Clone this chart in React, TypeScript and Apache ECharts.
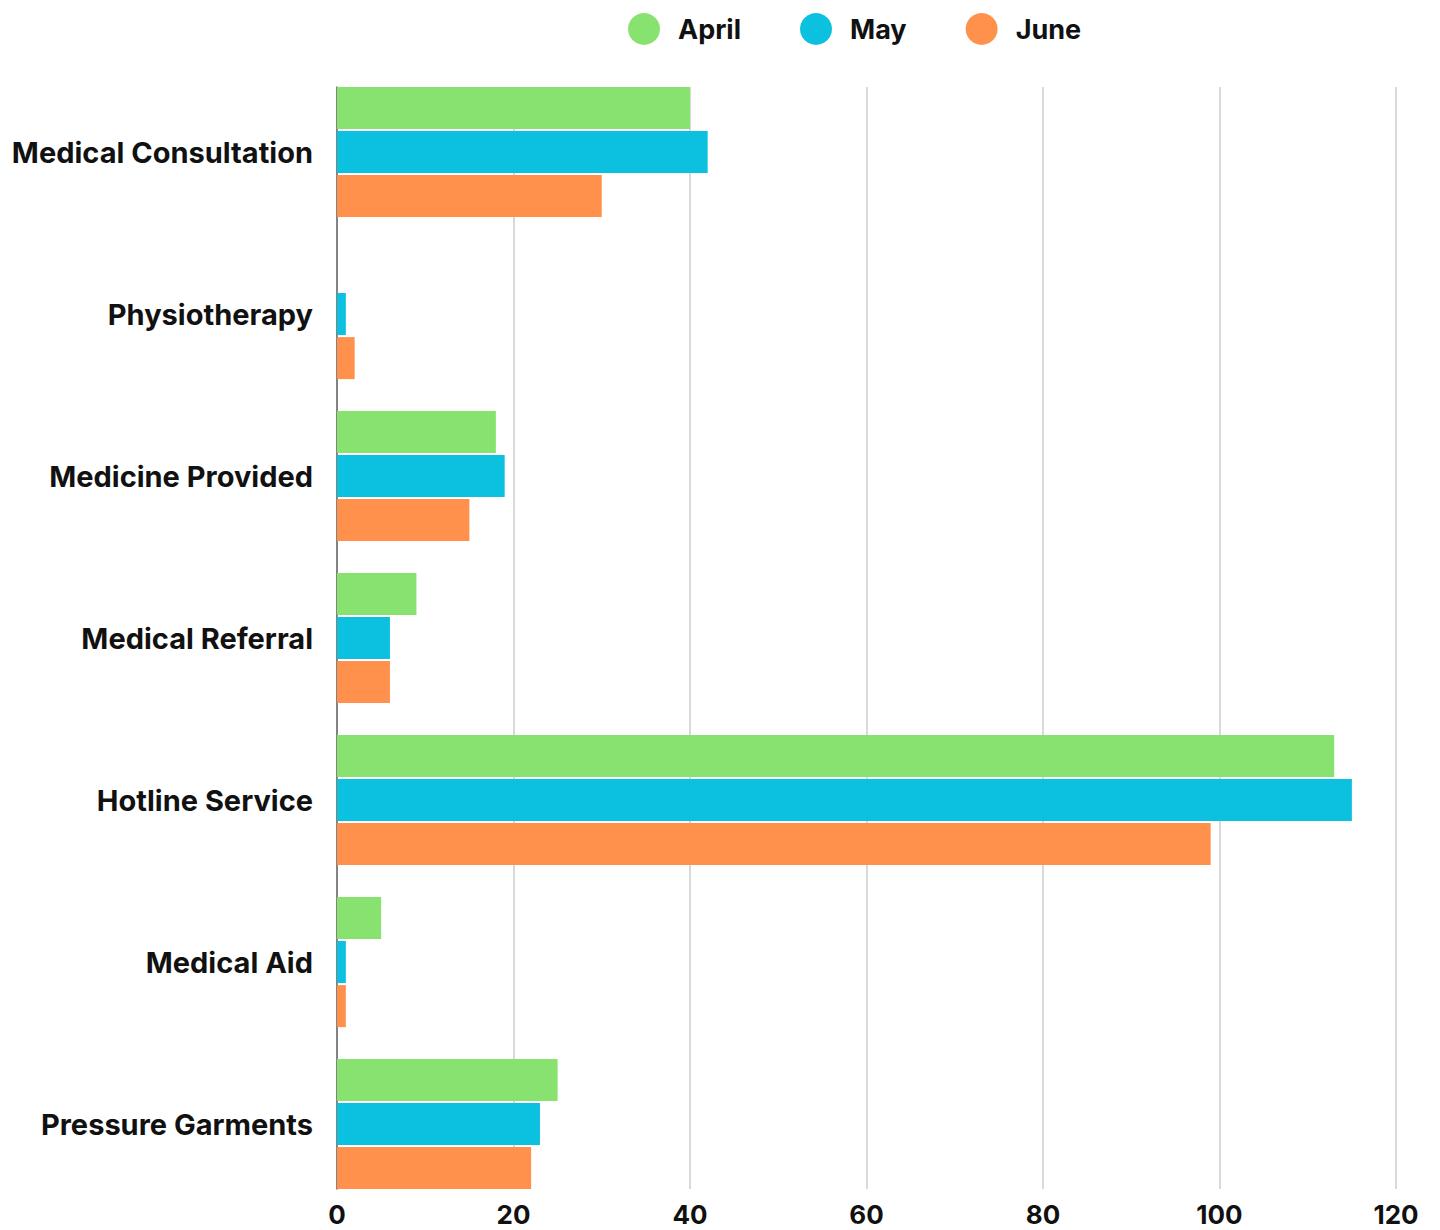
import React, { useEffect, useRef } from "react";
import * as echarts from "echarts";

const categories = [
  "Medical Consultation",
  "Physiotherapy",
  "Medicine Provided",
  "Medical Referral",
  "Hotline Service",
  "Medical Aid",
  "Pressure Garments",
];
const april = [40, 0, 18, 9, 113, 5, 25];
const may = [42, 1, 19, 6, 115, 1, 23];
const june = [30, 2, 15, 6, 99, 1, 22];
const seriesNames = ["April", "May", "June"];
const colors = ["#88E26F", "#0CC0DF", "#FF914D"];
const xMin = 0;
const xMax = 120;
const xInterval = 20;

const FONT = "Inter, 'Open Sans', sans-serif";

export default function App() {
  const ref = useRef<HTMLDivElement>(null);
  useEffect(() => {
    if (!ref.current) return;
    const chart = echarts.init(ref.current, undefined, { renderer: "svg" });
    const data = [april, may, june];
    chart.setOption({
      animation: false,
      legend: {
        top: 13,
        left: 628,
        icon: "circle",
        itemWidth: 32,
        itemHeight: 32,
        itemGap: 59,
        padding: 0,
        textStyle: {
          fontFamily: FONT,
          fontWeight: 700,
          fontSize: 27,
          lineHeight: 32,
          color: "#111",
          padding: [0, 0, 0, 13],
        },
        data: seriesNames,
      },
      grid: [
        { left: 337, right: 44, top: 71, bottom: 25 },
        { left: 337, right: 44, top: 87, bottom: 41 },
      ],
      xAxis: [
        { gridIndex: 0, type: "value", min: xMin, max: xMax, interval: xInterval, show: false },
        {
          gridIndex: 1,
          type: "value",
          min: xMin,
          max: xMax,
          interval: xInterval,
          axisLine: { show: false },
          axisTick: { show: false },
          splitLine: { show: true, lineStyle: { color: "#cccccc", width: 1.5 } },
          axisLabel: {
            margin: 12,
            fontFamily: FONT,
            fontWeight: 700,
            fontSize: 26,
            lineHeight: 26,
            color: "#111",
          },
        },
      ],
      yAxis: [
        {
          gridIndex: 0,
          type: "category",
          inverse: true,
          data: categories,
          axisLine: { show: false },
          axisTick: { show: false },
          splitLine: { show: false },
          axisLabel: {
            margin: 24,
            fontFamily: FONT,
            fontWeight: 700,
            fontSize: 29,
            color: "#111",
          },
        },
        {
          gridIndex: 1,
          type: "category",
          inverse: true,
          data: categories,
          axisLine: { show: true, lineStyle: { color: "#666666", width: 1.5 } },
          axisTick: { show: false },
          axisLabel: { show: false },
          splitLine: { show: false },
        },
      ],
      series: seriesNames.map((name, i) => ({
        name,
        type: "bar",
        xAxisIndex: 0,
        yAxisIndex: 0,
        data: data[i],
        barWidth: 42,
        barGap: "5%",
        itemStyle: { color: colors[i] },
        z: 3,
      })),
    });
    return () => chart.dispose();
  }, []);
  return (
    <div
      ref={ref}
      style={{ position: "absolute", left: 0, top: 0, width: 1440, height: 1230 }}
    />
  );
}
